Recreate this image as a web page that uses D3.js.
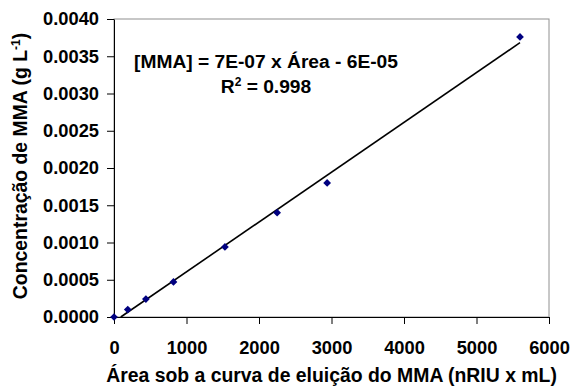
<!DOCTYPE html>
<html>
<head>
<meta charset="utf-8">
<script src="https://cdn.jsdelivr.net/npm/d3@7"></script>
<style>
  html, body { margin: 0; padding: 0; background: #fff; }
  svg { display: block; }
  text { font-family: "Liberation Sans", Arial, sans-serif; font-weight: bold; fill: #000; }
</style>
</head>
<body>
<svg id="chart" width="571" height="386"></svg>
<script>
// Data
const areaValues = [0, 190, 440, 820, 1530, 2250, 2940, 5600];          // nRIU x mL
const concValues = [0, 0.00010, 0.00024, 0.00047, 0.00094, 0.00140, 0.00180, 0.00376]; // g L-1
const xTicks = [0, 1000, 2000, 3000, 4000, 5000, 6000];
const yTicks = [0, 0.0005, 0.0010, 0.0015, 0.0020, 0.0025, 0.0030, 0.0035, 0.0040];
const xTitle = "Área sob a curva de eluição do MMA (nRIU x mL)";
const yTitle = "Concentração de MMA (g L";
const equationText = "[MMA] = 7E-07 x Área - 6E-05";
const r2Value = "0.998";

const svg = d3.select("#chart");
const plot = { left: 114, right: 549, top: 19, bottom: 317 };

const x = d3.scaleLinear().domain([0, 6000]).range([plot.left, plot.right]);
const y = d3.scaleLinear().domain([0, 0.004]).range([plot.bottom, plot.top]);

// Plot area border (gray, top and right)
svg.append("rect")
  .attr("x", plot.left).attr("y", plot.top)
  .attr("width", plot.right - plot.left).attr("height", plot.bottom - plot.top)
  .attr("fill", "none").attr("stroke", "#909090").attr("stroke-width", 1);

// Axes
const yAxis = d3.axisLeft(y).tickValues(yTicks).tickFormat(d3.format(".4f"))
  .tickSizeInner(7).tickSizeOuter(0).tickPadding(8);
const xAxis = d3.axisBottom(x).tickValues(xTicks).tickFormat(d3.format("d"))
  .tickSizeInner(7).tickSizeOuter(0).tickPadding(17);

const gy = svg.append("g").attr("transform", `translate(${plot.left},0)`).call(yAxis);
const gx = svg.append("g").attr("transform", `translate(0,${plot.bottom})`).call(xAxis);
[gx, gy].forEach(g => {
  g.selectAll("path.domain").attr("stroke", "#000").attr("stroke-width", 1);
  g.selectAll(".tick line").attr("stroke", "#000").attr("stroke-width", 1);
  g.selectAll(".tick text").attr("font-size", 18.3).attr("font-family", "'Liberation Sans', Arial, sans-serif")
    .attr("font-weight", "bold").attr("fill", "#000");
});

// Linear regression trendline computed from data
const n = areaValues.length;
const mx = d3.mean(areaValues), my = d3.mean(concValues);
let sxy = 0, sxx = 0;
for (let i = 0; i < n; i++) {
  sxy += (areaValues[i] - mx) * (concValues[i] - my);
  sxx += (areaValues[i] - mx) ** 2;
}
const slope = sxy / sxx;
const intercept = my - slope * mx;
let x0 = d3.min(areaValues);
if (slope * x0 + intercept < 0) x0 = -intercept / slope;
const x1 = d3.max(areaValues);

svg.append("line")
  .attr("x1", x(x0)).attr("y1", y(slope * x0 + intercept))
  .attr("x2", x(x1)).attr("y2", y(slope * x1 + intercept))
  .attr("stroke", "#000").attr("stroke-width", 1.6);

// Markers (diamonds)
const pts = areaValues.map((a, i) => ({ a, c: concValues[i] }));
svg.append("g").selectAll("path").data(pts).join("path")
  .attr("d", d3.symbol(d3.symbolSquare, 30))
  .attr("transform", d => `translate(${x(d.a)},${y(d.c)}) rotate(45)`)
  .attr("fill", "#000080");

// Equation annotation
svg.append("text").attr("x", 266).attr("y", 68).attr("text-anchor", "middle")
  .attr("font-size", 19.2).text(equationText);
const r2 = svg.append("text").attr("x", 266).attr("y", 93).attr("text-anchor", "middle")
  .attr("font-size", 19.2);
r2.append("tspan").text("R");
r2.append("tspan").attr("font-size", 12).attr("dy", -7).text("2");
r2.append("tspan").attr("dy", 7).text(" = " + r2Value);

// Axis titles
svg.append("text").attr("x", (plot.left + plot.right) / 2).attr("y", 382)
  .attr("text-anchor", "middle").attr("font-size", 19.4).text(xTitle);

const yt = svg.append("text")
  .attr("transform", `translate(27,${(plot.top + plot.bottom) / 2 - 2}) rotate(-90)`)
  .attr("text-anchor", "middle").attr("font-size", 19.4);
yt.append("tspan").text(yTitle);
yt.append("tspan").attr("font-size", 12).attr("dy", -7).text("-1");
yt.append("tspan").attr("dy", 7).text(")");
</script>
</body>
</html>
